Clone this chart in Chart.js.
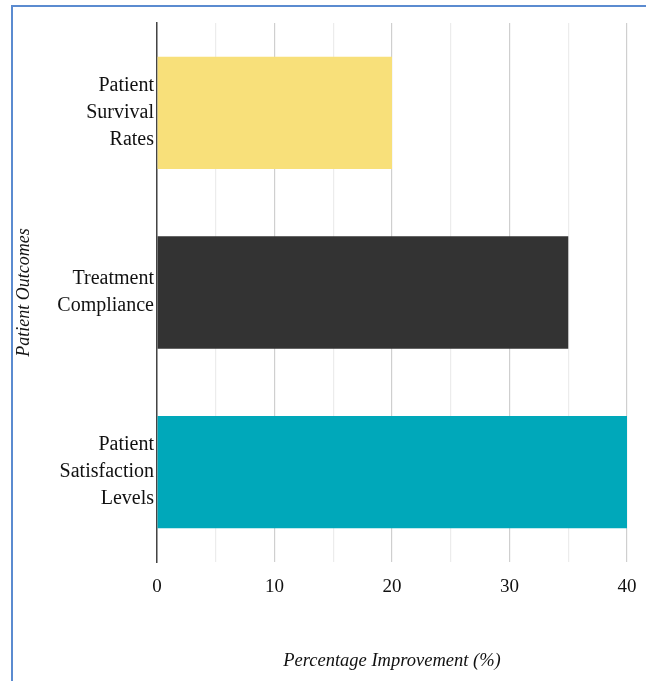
<!DOCTYPE html>
<html>
<head>
<meta charset="utf-8">
<script src="https://cdn.jsdelivr.net/npm/chart.js@4"></script>
<style>
  html, body { margin:0; padding:0; background:#fff; }
  #wrap { position:relative; width:646px; height:681px; overflow:hidden; }
  #frame { position:absolute; left:11px; top:5px; right:-10px; bottom:-10px;
           border-top:2px solid #5b8bd0; border-left:2px solid #5b8bd0; pointer-events:none; }
  canvas { position:absolute; left:0; top:0; }
</style>
</head>
<body>
<div id="wrap">
  <canvas id="outcomeChart" width="646" height="681"></canvas>
  <div id="frame"></div>
</div>
<script>
// data
const categories = [
  ['Patient', 'Survival', 'Rates'],
  ['Treatment', 'Compliance'],
  ['Patient', 'Satisfaction', 'Levels']
];
const improvement = [20, 35, 40];
const barColors = ['#f8e07a', '#333333', '#00a8ba'];
const xTicks = [0, 10, 20, 30, 40];

const serif = "'Liberation Serif', 'Times New Roman', serif";

const ctx = document.getElementById('outcomeChart');
new Chart(ctx, {
  type: 'bar',
  data: {
    labels: categories,
    datasets: [{
      label: 'Percentage Improvement (%)',
      data: improvement,
      backgroundColor: barColors,
      borderWidth: 0,
      categoryPercentage: 1,
      barPercentage: 0.625
    }]
  },
  options: {
    indexAxis: 'y',
    responsive: false,
    devicePixelRatio: 1,
    animation: false,
    layout: { padding: { top: 23, right: 19, left: 0, bottom: 0 } },
    plugins: { legend: { display: false }, tooltip: { enabled: false } },
    scales: {
      x: {
        min: 0,
        max: 40,
        ticks: {
          stepSize: 5,
          padding: 14,
          color: '#111',
          font: { family: serif, size: 19 },
          callback: (v) => xTicks.includes(v) ? v : ''
        },
        grid: {
          drawTicks: false,
          lineWidth: 1.2,
          color: (c) => (c.tick && c.tick.value % 10 === 0) ? '#cfcfcf' : '#ececec'
        },
        border: { display: false },
        title: {
          display: true,
          text: 'Percentage Improvement (%)',
          color: '#111',
          font: { family: serif, size: 18.5, style: 'italic' },
          padding: { top: 0, bottom: 9 }
        },
        afterFit: (s) => { s.height = 119; s.paddingLeft = 0; s.paddingRight = 0; }
      },
      y: {
        ticks: {
          padding: 3,
          color: '#111',
          font: { family: serif, size: 20, lineHeight: 1.35 }
        },
        grid: { display: false, drawTicks: false },
        border: { display: true, color: '#444', width: 1.5 },
        title: {
          display: true,
          text: 'Patient Outcomes',
          color: '#111',
          font: { family: serif, size: 18, style: 'italic' },
          padding: { top: 13, bottom: 0 }
        },
        // multi-line labels would otherwise push the plot down
        afterFit: (s) => { s.width = 157; s.paddingTop = 0; s.paddingBottom = 0; }
      }
    }
  }
});
</script>
</body>
</html>
